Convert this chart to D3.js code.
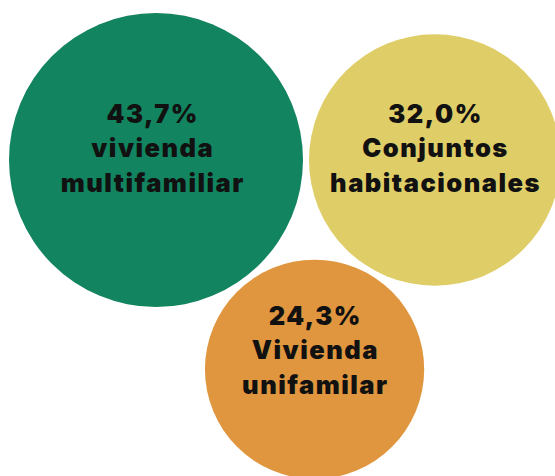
<!DOCTYPE html>
<html>
<head>
<meta charset="utf-8">
<script src="https://cdn.jsdelivr.net/npm/d3@7"></script>
<style>
  html, body { margin: 0; padding: 0; background: #fff; }
  svg { display: block; }
  .bubble-text { font-family: Inter, "Noto Sans", sans-serif; font-weight: 900; fill: #111; text-anchor: middle; }
</style>
</head>
<body>
<div id="chart"></div>
<script>
  "use strict";

  // data
  var categories = ["vivienda\nmultifamiliar", "Conjuntos\nhabitacionales", "Vivienda\nunifamilar"];
  var shares = [43.7, 32.0, 24.3];
  var colors = ["#12845f", "#dfcd68", "#df963e"];

  var width = 555,
    height = 476,
    gap = 6,
    fontSize = 25.5,
    spacing = 1.5,
    lineHeight = 34.5;

  var radius = d3.scaleSqrt()
    .domain([0, d3.max(shares)])
    .range([0, 147]);

  // pack the circles with a little padding between them
  var nodes = shares.map(function(v, i) {
    return { value: v, label: categories[i], color: colors[i], r: radius(v) + gap / 2 };
  });
  d3.packSiblings(nodes);
  nodes.forEach(function(d) { d.r -= gap / 2; });

  // make sure the first two sit side by side and the third one below
  if (nodes[2].y < nodes[0].y) {
    nodes.forEach(function(d) { d.y = -d.y; });
  }

  var minX = d3.min(nodes, function(d) { return d.x - d.r; }),
    minY = d3.min(nodes, function(d) { return d.y - d.r; });

  var svg = d3.select("#chart")
    .append("svg")
    .attr("width", width)
    .attr("height", height)
    .append("g")
    .attr("transform", "translate(" + (9 - minX) + "," + (13 - minY) + ")");

  var bubble = svg.selectAll("g.bubble")
    .data(nodes)
    .enter()
    .append("g")
    .attr("class", "bubble")
    .attr("transform", function(d) { return "translate(" + d.x + "," + d.y + ")"; });

  bubble.append("circle")
    .attr("r", function(d) { return d.r; })
    .style("fill", function(d) { return d.color; });

  // labels: value on first line, category below
  var fmt = function(v) { return v.toFixed(1).replace(".", ",") + "%"; };
  var shift = [-3, -3, -10];
  var nudge = [-4, 0, 0];

  bubble.each(function(d, i) {
    var lines = [fmt(d.value)].concat(d.label.split("\n"));
    var text = d3.select(this).append("text")
      .attr("class", "bubble-text")
      .style("font-size", fontSize + "px")
      .style("letter-spacing", spacing + "px");
    lines.forEach(function(l, j) {
      text.append("tspan")
        .attr("x", nudge[i] + spacing / 2)
        .attr("y", shift[i] + (j - 1) * lineHeight)
        .text(l);
    });
  });
</script>
</body>
</html>
